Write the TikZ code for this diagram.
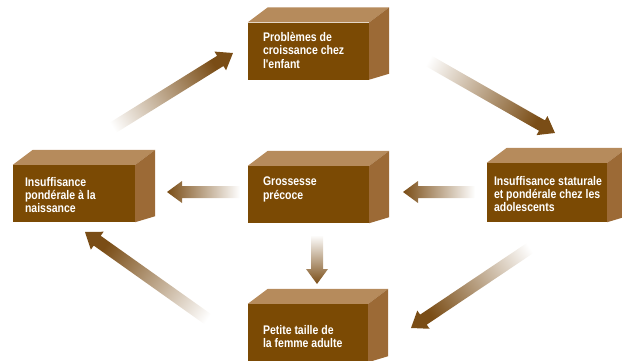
\documentclass[tikz,border=0pt]{standalone}
\usepackage{fontspec}
\newfontfamily\boxfont{Liberation Sans}[FakeStretch=0.84]
\usepackage{tikz}
\usetikzlibrary{positioning,calc}
\definecolor{frontbrown}{HTML}{7B4A04}
\definecolor{topbrown}{HTML}{B68B5C}
\definecolor{sidebrown}{HTML}{9C6A36}
\definecolor{arrdark}{HTML}{7A4D16}
\tikzset{
  face/.style   ={rectangle, fill=frontbrown, inner sep=0pt, minimum width=121pt, minimum height=57pt},
  boxtxt/.style ={align=left, inner sep=0pt, text=white, font=\boxfont\bfseries\fontsize{12.5}{13.3}\selectfont},
  fatarr/.style ={top color=white, bottom color=arrdark},
}
% top and side of a box, from its front face
\newcommand\boxsides[1]{%
  \fill[topbrown] (#1.north west) -- ++(20,15) -- ($(#1.north east)+(20,15)$) -- (#1.north east) -- cycle;
  \fill[sidebrown] (#1.north east) -- ++(20,15) -- ($(#1.south east)+(20,6)$) -- (#1.south east) -- cycle;
}
% shaded fat arrow from #1 (tail) to #2 (tip)
\newcommand\fatarrow[2]{%
  \path let \p1=($(#2)-(#1)$) in \pgfextra{%
    \pgfmathsetmacro\arrang{atan2(\y1,\x1)}\global\let\arrang\arrang
    \pgfmathsetmacro\arrlen{veclen(\x1,\y1)}\global\let\arrlen\arrlen}; 
  \pgfmathsetmacro\shang{\arrang+90}
  \shade[fatarr, shading angle=\shang, shift={(#1)}, rotate=\arrang]
    (0,-6) -- (\arrlen-15,-6) -- (\arrlen-15,-11) -- (\arrlen,0)
    -- (\arrlen-15,11) -- (\arrlen-15,6) -- (0,6) -- cycle;
}

\begin{document}
\begin{tikzpicture}[x=1pt, y=1pt]
  \useasboundingbox (0,0) rectangle (622,360);

  \node[face] (prob) at (308.5,309) {};
  \node[face, minimum width=122pt] (naiss) at (74,166.5) {};
  \node[face] (gross) at (308.5,165.5) {};
  \node[face, minimum width=120pt, minimum height=59pt] (adol) at (547,167.5) {};
  \node[face, minimum width=120pt, minimum height=58pt] (petite) at (308,27) {};

  \boxsides{prob}
  \boxsides{naiss}
  \boxsides{gross}
  \boxsides{adol}
  \boxsides{petite}

  \node[boxtxt, below right=10pt and 15pt of prob.north west] (probtxt)
    {Problèmes de\\croissance chez\\l'enfant};
  \node[boxtxt, below right=12pt and 12pt of naiss.north west] (naisstxt)
    {Insuffisance\\pondérale à la\\naissance};
  \node[boxtxt, below right=11pt and 15pt of gross.north west] (grosstxt)
    {Grossesse\\précoce};
  \node[boxtxt, below right=13pt and 7pt of adol.north west] (adoltxt)
    {Insuffisance staturale\\et pondérale chez les\\adolescents};
  \node[boxtxt, below right=21pt and 15pt of petite.north west] (petitetxt)
    {Petite taille de\\la femme adulte};

  % arrow ends
  \coordinate (a1) at (98,223);  \coordinate (b1) at (233,307);
  \coordinate (a2) at (413,308); \coordinate (b2) at (555,227);
  \coordinate (a3) at (240,168); \coordinate (b3) at (167,168);
  \coordinate (a4) at (475,168); \coordinate (b4) at (403,168);
  \coordinate (a5) at (317,125); \coordinate (b5) at (317,76);
  \coordinate (a6) at (223,30);  \coordinate (b6) at (85,128);
  \coordinate (a7) at (545,122); \coordinate (b7) at (411,32);

  \foreach \i in {1,...,7} {\fatarrow{a\i}{b\i}}
\end{tikzpicture}
\end{document}
